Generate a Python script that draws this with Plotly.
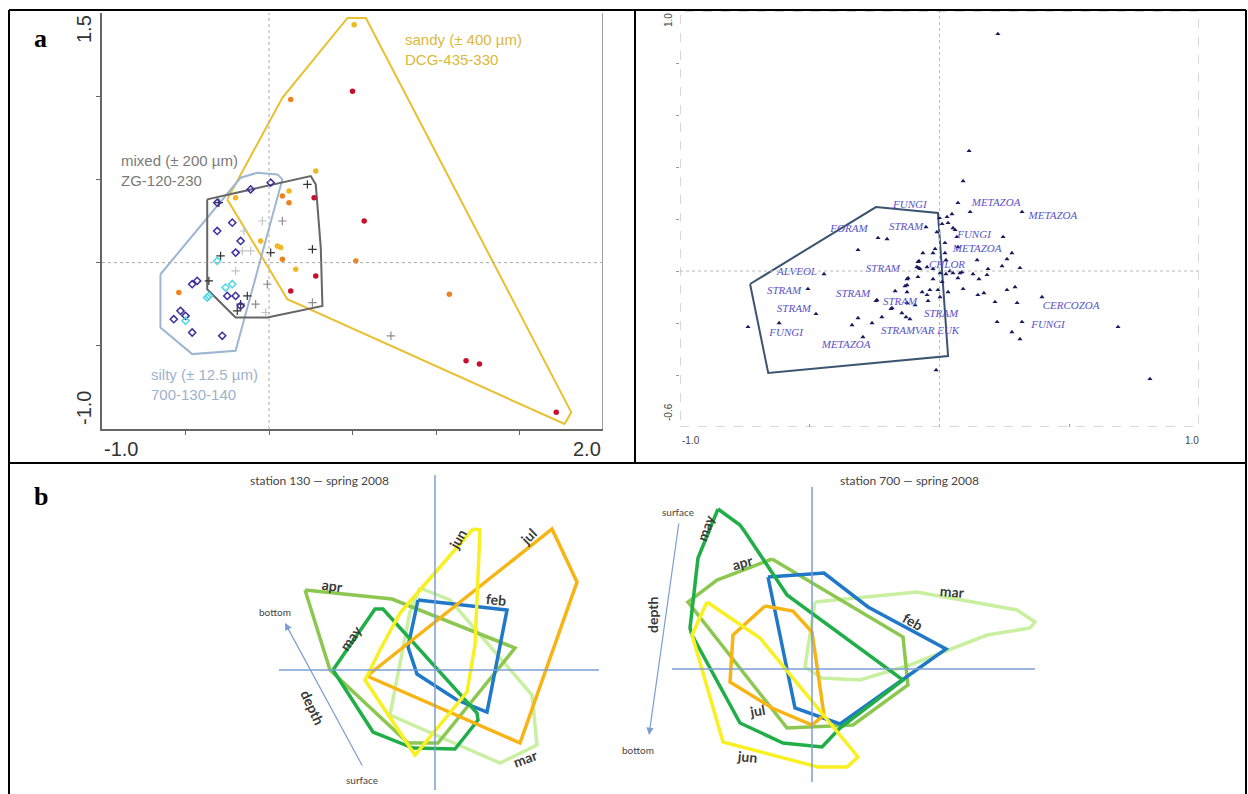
import plotly.graph_objects as go

W, H = 1248, 794

# ================= Panel a (top-left) =================
sandy_poly_x = [-0.25, 0.08, 0.47, 0.58, 1.81, 1.77, 0.11, -0.25]
sandy_poly_y = [0.38, 0.99, 1.47, 1.47, -0.90, -0.97, -0.22, 0.38]
mixed_poly_x = [-0.37, 0.25, 0.28, 0.31, 0.32, -0.01, -0.20, -0.37, -0.37]
mixed_poly_y = [0.38, 0.52, 0.47, 0.09, -0.26, -0.33, -0.33, -0.16, 0.38]
silty_poly_x = [-0.65, -0.17, -0.07, 0.05, 0.08, -0.20, -0.46, -0.65, -0.65]
silty_poly_y = [-0.07, 0.51, 0.54, 0.53, 0.50, -0.53, -0.55, -0.39, -0.07]

red_x = [0.50, 0.57, 0.27, 0.28, 0.13, 1.18, 1.26, 1.72]
red_y = [1.03, 0.25, 0.39, -0.08, -0.17, -0.59, -0.61, -0.90]
orange_x = [0.13, 0.52, 1.08, 0.08, 0.12, 0.08, -0.54]
orange_y = [0.98, 0.01, -0.19, 0.40, 0.36, 0.02, -0.18]
yellow_x = [0.51, 0.28, -0.20, 0.12, -0.05, 0.05, 0.07, 0.16]
yellow_y = [1.43, 0.55, 0.39, 0.43, 0.13, 0.10, 0.09, -0.04]
plus_dark_x = [0.23, -0.30, -0.29, 0.01, 0.26, -0.36, -0.13, -0.17, -0.19]
plus_dark_y = [0.47, 0.36, 0.04, 0.06, 0.08, -0.11, -0.20, -0.25, -0.29]
plus_mid_x = [0.08, -0.01, -0.08, 0.26, 0.73]
plus_mid_y = [0.25, -0.13, -0.25, -0.24, -0.44]
plus_light_x = [-0.04, -0.15, -0.16, -0.11, -0.20, -0.02]
plus_light_y = [0.25, 0.19, 0.07, 0.07, -0.05, -0.30]
diam_dark_x = [0.01, -0.11, -0.31, -0.22, -0.31, -0.17, -0.20, -0.46, -0.43,
               -0.25, -0.20, -0.17, -0.53, -0.50, -0.57, -0.46, -0.28]
diam_dark_y = [0.48, 0.44, 0.36, 0.24, 0.19, 0.13, 0.06, -0.13, -0.11,
               -0.20, -0.20, -0.26, -0.29, -0.32, -0.34, -0.42, -0.44]
diam_cyan_x = [-0.31, -0.22, -0.26, -0.37, -0.36, -0.50]
diam_cyan_y = [0.01, -0.13, -0.15, -0.21, -0.20, -0.35]

# ================= Panel top-right =================
tr_poly_x = [-0.73, -0.245, -0.006, 0.033, -0.66, -0.73]
tr_poly_y = [-0.05, 0.246, 0.223, -0.327, -0.392, -0.05]

tr_pts_x = [0.225, 0.114, 0.091, 0.071, 0.118, 0.318, 0.048, 0.010, 0.033, 0.052,
            -0.052, -0.010, 0.067, 0.245, -0.237, -0.202, 0.021, -0.017, 0.071, 0.279,
            -0.314, -0.064, 0.021, 0.145, 0.260, -0.079, 0.025, 0.241, -0.087, -0.075,
            -0.048, -0.025, 0.002, 0.025, 0.040, 0.052, 0.079, 0.187, 0.310, 0.071,
            0.129, 0.152, 0.183, -0.125, -0.083, -0.025, 0.010, -0.125, -0.171, -0.125,
            -0.067, -0.037, -0.006, 0.033, 0.091, 0.171, 0.148, 0.260, 0.291, -0.048,
            0.002, -0.241, -0.125, -0.044, -0.094, -0.183, 0.214, 0.299, 0.395, -0.145,
            -0.114, -0.222, -0.260, -0.314, -0.337, 0.222, 0.318, 0.279, 0.310, -0.295,
            -0.445, -0.507, -0.476, -0.618, -0.738, -0.245, -0.187, -0.129, -0.013, -0.121,
            -0.133, -0.079, -0.083, -0.025, 0.087, 0.060, 0.029, 0.000, 0.688, 0.811]
tr_pts_y = [0.912, 0.462, 0.346, 0.262, 0.227, 0.227, 0.219, 0.181, 0.185, 0.165,
            0.169, 0.150, 0.131, 0.131, 0.127, 0.123, 0.108, 0.085, 0.092, 0.069,
            0.081, 0.069, 0.069, 0.042, 0.046, 0.038, 0.042, 0.019, 0.015, 0.008,
            0.015, 0.008, -0.008, -0.012, 0.000, -0.008, -0.008, 0.008, 0.012, -0.027,
            -0.012, -0.031, -0.015, -0.031, -0.023, -0.031, -0.042, -0.054, -0.077, -0.081,
            -0.081, -0.073, -0.073, -0.081, -0.069, -0.085, -0.092, -0.073, -0.062, -0.092,
            -0.100, -0.112, -0.123, -0.115, -0.131, -0.142, -0.119, -0.123, -0.100, -0.162,
            -0.185, -0.177, -0.200, -0.181, -0.208, -0.196, -0.196, -0.235, -0.262, -0.254,
            -0.012, -0.069, -0.165, -0.200, -0.215, -0.115, -0.146, -0.177, -0.381, -0.027,
            -0.058, 0.012, 0.035, 0.069, -0.004, 0.158, 0.208, 0.204, -0.215, -0.415]

tr_labels = ["FUNGI", "FORAM", "STRAM", "METAZOA", "METAZOA", "FUNGI", "METAZOA",
             "CHLOR", "ALVEOL", "STRAM", "STRAM", "STRAM", "STRAM", "STRAM", "STRAM",
             "FUNGI", "STRAMVAR EUK", "METAZOA", "CERCOZOA", "FUNGI"]
tr_label_x = [-0.114, -0.349, -0.129, 0.218, 0.437, 0.133, 0.145, 0.029, -0.549, -0.218,
              -0.599, -0.333, -0.152, -0.561, 0.006, -0.591, -0.075, -0.360, 0.507, 0.418]
tr_label_y = [0.254, 0.162, 0.169, 0.262, 0.212, 0.138, 0.085, 0.023, -0.004, 0.008,
              -0.077, -0.088, -0.119, -0.146, -0.165, -0.238, -0.231, -0.285, -0.135, -0.208]

# ================= Panel b (station 130) =================
s130 = {
    "feb": ([-0.17, 0.72, 0.52, 0.22, -0.18, -0.27, -0.17],
            [0.70, 0.60, -0.42, -0.30, -0.04, 0.23, 0.70], "#1f78c8"),
    "mar": ([-0.15, 0.15, 0.97, 1.02, 0.65, -0.45, -0.25, -0.15],
            [0.82, 0.70, -0.25, -0.75, -0.93, -0.45, 0.58, 0.82], "#c8f0a0"),
    "apr": ([-1.30, -0.43, 0.80, 0.03, -0.27, -1.05, -1.30],
            [0.80, 0.71, 0.22, -0.73, -0.73, 0.00, 0.80], "#8cc850"),
    "may": ([-1.02, -0.60, -0.52, 0.42, 0.43, 0.20, -0.22, -0.62, -1.02],
            [0.00, 0.61, 0.61, -0.43, -0.50, -0.79, -0.78, -0.62, 0.00], "#1fae48"),
    "jul": ([-0.68, 1.17, 1.42, 0.85, -0.68],
            [-0.06, 1.41, 0.88, -0.73, -0.06], "#f8b412"),
    "jun": ([0.38, 0.45, 0.40, 0.32, -0.20, -0.70, -0.55, -0.35, 0.38],
            [1.41, 1.40, 0.25, -0.22, -0.85, -0.10, 0.20, 0.57, 1.41], "#f8f020"),
}
s130_order = ["mar", "apr", "feb", "may", "jul", "jun"]
s130_lab = {"apr": (-1.03, 0.85, 8), "may": (-0.85, 0.32, -55), "jun": (0.22, 1.31, -60),
            "jul": (0.93, 1.34, -45), "feb": (0.61, 0.71, 5), "mar": (0.90, -0.88, -20)}

# ================= Panel b (station 700) =================
s700 = {
    "mar": ([0.03, 1.05, 2.05, 2.23, 2.18, 1.75, 0.98, 0.48, 0.10, -0.07, 0.03],
            [0.67, 0.77, 0.59, 0.47, 0.41, 0.34, 0.04, -0.11, -0.09, 0.02, 0.67], "#c8f0a0"),
    "apr": ([-0.40, 0.91, 0.96, 0.41, -0.25, -1.24, -0.95, -0.40],
            [1.10, 0.32, -0.16, -0.56, -0.59, 0.67, 0.89, 1.10], "#8cc850"),
    "feb": ([-0.44, 0.12, 0.56, 1.34, 0.28, -0.17, -0.44],
            [0.92, 0.96, 0.62, 0.20, -0.55, -0.39, 0.92], "#1f78c8"),
    "may": ([-0.94, -0.72, -0.67, -0.25, 0.91, 0.28, 0.10, -0.29, -0.72, -1.20, -1.22, -1.14, -0.94],
            [1.60, 1.44, 1.37, 0.74, -0.11, -0.59, -0.78, -0.74, -0.54, 0.34, 0.41, 1.11, 1.60], "#1fae48"),
    "jul": ([-0.47, -0.19, 0.00, 0.12, 0.00, -0.40, -0.82, -0.79, -0.47],
            [0.63, 0.58, 0.37, -0.46, -0.56, -0.39, -0.13, 0.34, 0.63], "#f8b412"),
    "jun": ([-1.05, -0.52, 0.46, 0.35, 0.06, -0.89, -1.20, -1.05],
            [0.67, 0.31, -0.88, -0.98, -0.98, -0.73, 0.34, 0.67], "#f8f020"),
}
s700_order = ["mar", "apr", "feb", "may", "jul", "jun"]
s700_lab = {"may": (-1.07, 1.41, -70), "apr": (-0.70, 1.07, -15), "mar": (1.40, 0.78, 5),
            "feb": (1.01, 0.48, 30), "jul": (-0.55, -0.41, -10), "jun": (-0.65, -0.87, 5)}


def P(px, py):
    return px / W, 1 - py / H


fig = go.Figure()

# ---- panel a traces ----
fig.add_trace(go.Scatter(x=sandy_poly_x, y=sandy_poly_y, mode="lines",
                         line=dict(color="#e8c030", width=2), xaxis="x", yaxis="y"))
fig.add_trace(go.Scatter(x=silty_poly_x, y=silty_poly_y, mode="lines",
                         line=dict(color="#9db6d2", width=2), xaxis="x", yaxis="y"))
fig.add_trace(go.Scatter(x=mixed_poly_x, y=mixed_poly_y, mode="lines",
                         line=dict(color="#666666", width=2), xaxis="x", yaxis="y"))
for xs, ys, col in [(plus_light_x, plus_light_y, "#c4c4c4"),
                    (plus_mid_x, plus_mid_y, "#8c8c8c"),
                    (plus_dark_x, plus_dark_y, "#333333")]:
    fig.add_trace(go.Scatter(x=xs, y=ys, mode="markers", xaxis="x", yaxis="y",
                             marker=dict(symbol="cross-thin", size=6, line=dict(color=col, width=1.2))))
fig.add_trace(go.Scatter(x=diam_dark_x, y=diam_dark_y, mode="markers", xaxis="x", yaxis="y",
                         marker=dict(symbol="diamond-open", size=5.5, color="#3b2f9e", line=dict(width=1.5))))
fig.add_trace(go.Scatter(x=diam_cyan_x, y=diam_cyan_y, mode="markers", xaxis="x", yaxis="y",
                         marker=dict(symbol="diamond-open", size=5.5, color="#4fd6e6", line=dict(width=1.5))))
for xs, ys, col in [(yellow_x, yellow_y, "#f0b822"), (orange_x, orange_y, "#ea8420"),
                    (red_x, red_y, "#c8102e")]:
    fig.add_trace(go.Scatter(x=xs, y=ys, mode="markers", xaxis="x", yaxis="y",
                             marker=dict(size=5.5, color=col)))

# ---- top-right traces ----
fig.add_trace(go.Scatter(x=tr_poly_x, y=tr_poly_y, mode="lines", xaxis="x2", yaxis="y2",
                         line=dict(color="#3b5470", width=2)))
fig.add_trace(go.Scatter(x=tr_pts_x, y=tr_pts_y, mode="markers", xaxis="x2", yaxis="y2",
                         marker=dict(symbol="triangle-up", size=4.5, color="#1a1a5e")))
fig.add_trace(go.Scatter(x=tr_label_x, y=tr_label_y, mode="text", xaxis="x2", yaxis="y2",
                         text=["<i>" + t + "</i>" for t in tr_labels],
                         textfont=dict(family="Liberation Serif", size=11, color="#5a52c8")))

# ---- bottom panels ----
for data, order, xa, ya in [(s130, s130_order, "x3", "y3"), (s700, s700_order, "x4", "y4")]:
    for k in order:
        xs, ys, col = data[k]
        fig.add_trace(go.Scatter(x=xs, y=ys, mode="lines", xaxis=xa, yaxis=ya,
                                 line=dict(color=col, width=3.5)))

# cross lines of bottom panels
cross_col = "#7c9ed2"
fig.add_trace(go.Scatter(x=[0, 0], y=[1.95, -1.20], mode="lines", xaxis="x3", yaxis="y3",
                         line=dict(color=cross_col, width=1.5)))
fig.add_trace(go.Scatter(x=[-1.56, 1.64], y=[0, 0], mode="lines", xaxis="x3", yaxis="y3",
                         line=dict(color=cross_col, width=1.5)))
fig.add_trace(go.Scatter(x=[0, 0], y=[1.82, -1.13], mode="lines", xaxis="x4", yaxis="y4",
                         line=dict(color=cross_col, width=1.5)))
fig.add_trace(go.Scatter(x=[-1.40, 2.23], y=[0, 0], mode="lines", xaxis="x4", yaxis="y4",
                         line=dict(color=cross_col, width=1.5)))

ann = []


def paper_text(txt, px, py, font, ang=0):
    return dict(x=P(px, py)[0], y=P(px, py)[1], xref="paper", yref="paper", text=txt,
                textangle=ang, showarrow=False, font=font, xanchor="center", yanchor="middle")


# panel labels
ann.append(paper_text("<b>a</b>", 40, 39, dict(family="Liberation Serif", size=26, color="#000")))
ann.append(paper_text("<b>b</b>", 41, 496, dict(family="Liberation Serif", size=26, color="#000")))
# panel a axis labels
axf = dict(family="Liberation Sans", size=20, color="#333")
for txt, px, py, ang in [("1.5", 84, 29, -90), ("-1.0", 84, 408, -90),
                         ("-1.0", 121, 449, 0), ("2.0", 587, 449, 0)]:
    ann.append(paper_text(txt, px, py, axf, ang))
# panel a group labels
ann.append(dict(x=-0.90, y=0.555, xref="x", yref="y", xanchor="left", text="mixed (± 200 µm)<br>ZG-120-230",
                align="left", showarrow=False, font=dict(family="Liberation Sans", size=15, color="#7a7a7a")))
ann.append(dict(x=0.80, y=1.28, xref="x", yref="y", xanchor="left", text="sandy (± 400 µm)<br>DCG-435-330",
                align="left", showarrow=False, font=dict(family="Liberation Sans", size=15, color="#dcb83a")))
ann.append(dict(x=-0.72, y=-0.73, xref="x", yref="y", xanchor="left", text="silty (± 12.5 µm)<br>700-130-140",
                align="left", showarrow=False, font=dict(family="Liberation Sans", size=15, color="#9db2cc")))
# top-right axis labels
axf2 = dict(family="Liberation Sans", size=10, color="#444")
for txt, px, py, ang in [("1.0", 668, 20, -90), ("-0.6", 668, 412, -90),
                         ("-1.0", 691, 440, 0), ("1.0", 1192, 440, 0)]:
    ann.append(paper_text(txt, px, py, axf2, ang))

# bottom panel texts
labf = dict(family="Lato", size=14, color="#3a3a3a")
smallf = dict(family="Lato", size=10, color="#444")
for lab, xa, ya in [(s130_lab, "x3", "y3"), (s700_lab, "x4", "y4")]:
    for k, (lx, ly, ang) in lab.items():
        ann.append(dict(x=lx, y=ly, xref=xa, yref=ya, text="<b>" + k + "</b>", textangle=ang,
                        showarrow=False, font=labf))
ann += [
    dict(x=-1.16, y=1.89, xref="x3", yref="y3", text="station 130 — spring 2008", showarrow=False,
         font=dict(family="Lato", size=12, color="#444")),
    dict(x=0.97, y=1.88, xref="x4", yref="y4", text="station 700 — spring 2008", showarrow=False,
         font=dict(family="Lato", size=12, color="#444")),
    dict(x=-1.60, y=0.58, xref="x3", yref="y3", text="bottom", showarrow=False, font=smallf),
    dict(x=-0.73, y=-1.10, xref="x3", yref="y3", text="surface", showarrow=False, font=smallf),
    dict(x=-1.22, y=-0.37, xref="x3", yref="y3", text="<b>depth</b>", textangle=65, showarrow=False, font=labf),
    dict(x=-1.50, y=0.47, xref="x3", yref="y3", ax=-0.72, ay=-0.97, axref="x3", ayref="y3", text="",
         showarrow=True, arrowhead=2, arrowsize=1.2, arrowwidth=1.2, arrowcolor=cross_col),
    dict(x=-1.34, y=1.57, xref="x4", yref="y4", text="surface", showarrow=False, font=smallf),
    dict(x=-1.74, y=-0.81, xref="x4", yref="y4", text="bottom", showarrow=False, font=smallf),
    dict(x=-1.60, y=0.54, xref="x4", yref="y4", text="<b>depth</b>", textangle=-90, showarrow=False, font=labf),
    dict(x=-1.63, y=-0.66, xref="x4", yref="y4", ax=-1.33, ay=1.47, axref="x4", ayref="y4", text="",
         showarrow=True, arrowhead=2, arrowsize=1.2, arrowwidth=1.2, arrowcolor=cross_col),
]

shapes = []
# table borders
for (x0, y0, x1, y1) in [(9, 10, 1246, 10), (9, 10, 9, 794), (635, 10, 635, 463),
                         (9, 463, 1246, 463), (1246, 10, 1246, 794)]:
    a0 = P(x0, y0)
    a1 = P(x1, y1)
    shapes.append(dict(type="line", xref="paper", yref="paper", x0=a0[0], y0=a0[1], x1=a1[0], y1=a1[1],
                       line=dict(color="#000", width=2)))
# panel a: zero dotted lines, right border
shapes += [
    dict(type="line", xref="x", yref="y", x0=-1, x1=2, y0=0, y1=0, line=dict(color="#aaa", width=1, dash="dot")),
    dict(type="line", xref="x", yref="y", x0=0, x1=0, y0=-1, y1=1.5, line=dict(color="#aaa", width=1, dash="dot")),
    dict(type="line", xref="x", yref="y", x0=2, x1=2, y0=-1, y1=1.5, line=dict(color="#a0a0a0", width=2)),
]
# top-right frame & zero lines
shapes += [
    dict(type="rect", xref="x2", yref="y2", x0=-1, x1=1, y0=-0.6, y1=1.0,
         line=dict(color="#b0b0b0", width=1, dash="dash")),
    dict(type="line", xref="x2", yref="y2", x0=-1, x1=1, y0=0, y1=0, line=dict(color="#bbb", width=1, dash="dot")),
    dict(type="line", xref="x2", yref="y2", x0=0, x1=0, y0=-0.6, y1=1.0, line=dict(color="#bbb", width=1, dash="dot")),
]

hidden = dict(visible=False, fixedrange=True)
fig.update_layout(
    width=W, height=H, autosize=False,
    margin=dict(l=0, r=0, t=0, b=0),
    paper_bgcolor="white", plot_bgcolor="white",
    showlegend=False,
    annotations=ann, shapes=shapes,
    xaxis=dict(domain=[102 / W, 603 / W], range=[-1, 2], showgrid=False, zeroline=False,
               showline=True, linecolor="#666", linewidth=2, ticks="outside", ticklen=4,
               tickcolor="#666", tickvals=[-0.5, 0, 0.5, 1, 1.5], showticklabels=False,
               anchor="y", fixedrange=True),
    yaxis=dict(domain=[1 - 429 / H, 1 - 13 / H], range=[-1, 1.5], showgrid=False, zeroline=False,
               showline=True, linecolor="#666", linewidth=2, ticks="outside", ticklen=4,
               tickcolor="#666", tickvals=[-0.5, 0, 0.5, 1.0], showticklabels=False,
               anchor="x", fixedrange=True),
    xaxis2=dict(domain=[680 / W, 1199 / W], range=[-1, 1], showgrid=False, zeroline=False,
                showline=False, ticks="inside", ticklen=3, tickcolor="#999",
                tickvals=[-0.5, 0, 0.5], showticklabels=False, anchor="y2", fixedrange=True),
    yaxis2=dict(domain=[1 - 427 / H, 1 - 11 / H], range=[-0.6, 1.0], showgrid=False, zeroline=False,
                showline=False, ticks="outside", ticklen=3, tickcolor="#999",
                tickvals=[-0.4, -0.2, 0, 0.2, 0.4, 0.6, 0.8], showticklabels=False,
                anchor="x2", fixedrange=True),
    xaxis3=dict(domain=[250 / W, 610 / W], range=[-1.85, 1.75], anchor="y3", **hidden),
    yaxis3=dict(domain=[1 - 790 / H, 1 - 472 / H], range=[-1.20, 1.98], anchor="x3", **hidden),
    xaxis4=dict(domain=[625 / W, 1045 / W], range=[-1.87, 2.33], anchor="y4", **hidden),
    yaxis4=dict(domain=[1 - 790 / H, 1 - 472 / H], range=[-1.21, 1.97], anchor="x4", **hidden),
)

fig.write_html("out.html", config={"displayModeBar": False},
               post_script="document.body.style.margin='0';document.body.style.overflow='hidden';")
